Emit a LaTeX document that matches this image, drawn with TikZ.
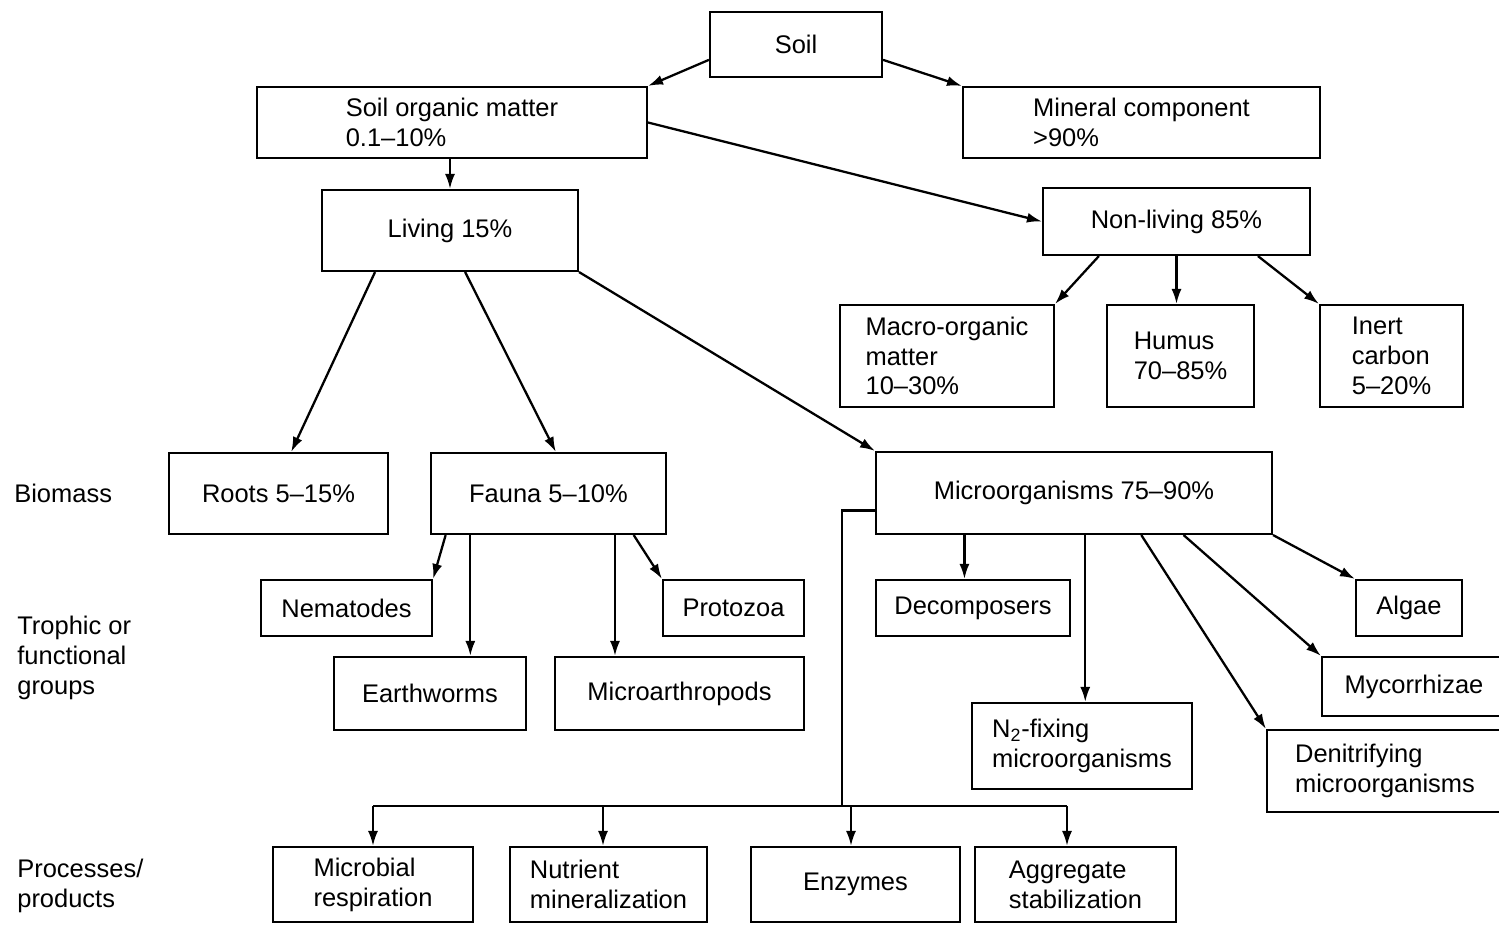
\documentclass[tikz,border=0pt]{standalone}
\usepackage{fontspec}
\setmainfont{Liberation Sans}
\usetikzlibrary{arrows.meta,positioning,calc}

\begin{document}
\begin{tikzpicture}[x=0.02cm, y=-0.02cm,
    every node/.style={font=\fontsize{14.5}{17}\selectfont},
    box/.style={rectangle, draw, line width=1.2pt, align=left, inner sep=0pt},
    side/.style={anchor=west, align=left, inner sep=0pt},
    line/.style={draw, -{Latex[length=0.3cm,width=0.2cm]}, line width=1.3pt}]

    \useasboundingbox (0,0) rectangle (1499,925);

    % ====== Top: soil split ======
    \node [box, minimum width=3.44cm, minimum height=1.30cm] (soil) at (796,44.5) {Soil};
    \node [box, minimum width=7.80cm, minimum height=1.42cm] (som) at (452,122.5)
        {Soil organic matter\\0.1--10\%};
    \node [box, minimum width=7.14cm, minimum height=1.42cm] (mineral) at (1141.5,122.5)
        {Mineral component\\>90\%};

    % ====== Living / non-living ======
    \node [box, minimum width=5.12cm, minimum height=1.62cm] (living) at (450,230.5) {Living 15\%};
    \node [box, minimum width=5.34cm, minimum height=1.34cm] (nonliving) at (1176.5,221.5) {Non-living 85\%};

    \node [box, minimum width=4.28cm, minimum height=2.04cm] (macro) at (947,356)
        {Macro-organic\\matter\\10--30\%};
    \node [box, minimum width=2.94cm, minimum height=2.04cm] (humus) at (1180.5,356)
        {Humus\\70--85\%};
    \node [box, minimum width=2.86cm, minimum height=2.04cm] (inert) at (1391.5,356)
        {Inert\\carbon\\5--20\%};

    % ====== Biomass ======
    \node [box, minimum width=4.38cm, minimum height=1.62cm] (roots) at (278.5,493.5) {Roots 5--15\%};
    \node [box, minimum width=4.70cm, minimum height=1.62cm] (fauna) at (548.5,493.5) {Fauna 5--10\%};
    \node [box, minimum width=7.92cm, minimum height=1.64cm] (micro) at (1074,493) {Microorganisms 75--90\%};

    % ====== Trophic or functional groups ======
    \node [box, minimum width=3.42cm, minimum height=1.12cm] (nema) at (346.5,608) {Nematodes};
    \node [box, minimum width=2.82cm, minimum height=1.12cm] (proto) at (733.5,608) {Protozoa};
    \node [box, minimum width=3.84cm, minimum height=1.46cm] (earth) at (430,693.5) {Earthworms};
    \node [box, minimum width=4.98cm, minimum height=1.46cm] (marth) at (679.5,693.5) {Microarthropods};

    \node [box, minimum width=3.88cm, minimum height=1.12cm] (decomp) at (973,608) {Decomposers};
    \node [box, minimum width=2.12cm, minimum height=1.12cm] (algae) at (1409,608) {Algae};
    \node [box, minimum width=3.68cm, minimum height=1.18cm] (mycorr) at (1414,686.5) {Mycorrhizae};
    \node [box, minimum width=4.40cm, minimum height=1.72cm] (nfix) at (1082,746)
        {N\textsubscript{2}-fixing\\microorganisms};
    \node [box, minimum width=4.72cm, minimum height=1.64cm] (denit) at (1385,771)
        {Denitrifying\\microorganisms};

    % ====== Processes / products ======
    \node [box, minimum width=4.00cm, minimum height=1.50cm] (resp) at (373,884.5)
        {Microbial\\respiration};
    \node [box, minimum width=3.94cm, minimum height=1.50cm] (nutr) at (608.5,884.5)
        {Nutrient\\mineralization};
    \node [box, minimum width=4.18cm, minimum height=1.50cm] (enz) at (855.5,884.5) {Enzymes};
    \node [box, minimum width=4.02cm, minimum height=1.50cm] (aggr) at (1075.5,884.5)
        {Aggregate\\stabilization};

    % ====== Side labels ======
    \node [side] (lbio) at (14,493) {Biomass};
    \node [side] (ltro) at (17,658) {Trophic or\\functional\\groups};
    \node [side] (lpro) at (17,886) {Processes/\\products};

    % ====== Lines ======
    \path [line] (soil.190) -- (som.north east);
    \path [line] (soil.350) -- (mineral.north west);
    \path [line] (living.north |- som.south) -- (living.north);
    \path [line] (som.east) -- (nonliving.west);

    \path [line] (nonliving.204) -- (macro.north east);
    \path [line] (nonliving.south) -- (nonliving.south |- humus.north);
    \path [line] (nonliving.337) -- (inert.north west);

    \path [line] (living.209) -- (roots.73);
    \path [line] (living.290) -- (fauna.80);
    \path [line] (living.south east) -- (micro.north west);

    \path [line] (fauna.202) -- (nema.north east);
    \path [line] (fauna.208) -- (fauna.208 |- earth.north);
    \path [line] (fauna.328) -- (fauna.328 |- marth.north);
    \path [line] (fauna.334) -- (proto.north west);

    \path [line] (micro.201) -- (micro.201 |- decomp.north);
    \path [line] (micro.285) -- (micro.285 |- nfix.north);
    \path [line] (micro.328) -- (denit.north west);
    \path [line] (micro.339) -- (mycorr.north west);
    \path [line] (micro.south east) -- (algae.north west);

    % bus to the processes
    \coordinate (bus) at (842,806);
    \draw [line width=1.3pt] (micro.185) -| (bus);
    \draw [line width=1.3pt] (resp.north |- bus) -- ([xshift=-0.17cm]aggr.north |- bus);
    \path [line] (resp.north |- bus) -- (resp.north);
    \path [line] ([xshift=-0.11cm]nutr.north |- bus) -- ([xshift=-0.11cm]nutr.north);
    \path [line] ([xshift=-0.09cm]enz.north |- bus) -- ([xshift=-0.09cm]enz.north);
    \path [line] ([xshift=-0.17cm]aggr.north |- bus) -- ([xshift=-0.17cm]aggr.north);
\end{tikzpicture}
\end{document}
